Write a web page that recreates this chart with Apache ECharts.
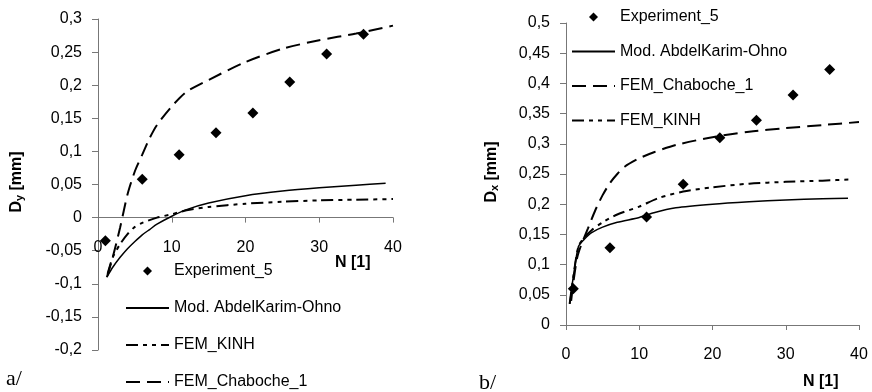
<!DOCTYPE html>
<html lang="en">
    <head>
        <meta charset="utf-8">
        <title>Dy / Dx vs N</title>
        <script type="text/javascript" src="https://cdn.jsdelivr.net/npm/echarts@6/dist/echarts.min.js"></script>
        <style>
            html, body { margin: 0; padding: 0; background: #fff; }
            #chart { width: 872px; height: 392px; }
        </style>
    </head>
    <body>
        <div id="chart"></div>
        <script>
            // 实验点的循环次数
            var expN = [1, 6, 11, 16, 21, 26, 31, 36];
            // a/ Dy
            var dyExp = [-0.035, 0.058, 0.095, 0.128, 0.158, 0.205, 0.247, 0.277];
            var dyMod = [[1.3, -0.088], [2, -0.075], [3, -0.06], [4, -0.047], [5, -0.036], [6, -0.026], [7, -0.018], [8, -0.01], [10, 0.002], [12, 0.012], [15, 0.022], [20, 0.033], [25, 0.04], [30, 0.045], [35, 0.049], [39, 0.052]];
            var dyKinh = [[1.3, -0.085], [2, -0.06], [3, -0.04], [4, -0.025], [5, -0.014], [6, -0.008], [8, 0], [10, 0.005], [12, 0.011], [15, 0.016], [20, 0.021], [25, 0.024], [30, 0.026], [35, 0.027], [40, 0.028]];
            var dyChab = [[1.2, -0.09], [2, -0.06], [3, -0.015], [4, 0.035], [5, 0.07], [6, 0.095], [7, 0.12], [8, 0.14], [10, 0.168], [12, 0.19], [15, 0.208], [20, 0.235], [25, 0.255], [30, 0.268], [35, 0.278], [40, 0.29]];
            // b/ Dx
            var dxExp = [0.06, 0.128, 0.179, 0.233, 0.31, 0.339, 0.381, 0.423];
            var dxMod = [[0.5, 0.035], [1, 0.08], [1.7, 0.13], [2.5, 0.142], [3.5, 0.153], [5, 0.162], [7, 0.17], [10, 0.178], [12, 0.186], [15, 0.194], [20, 0.2], [25, 0.204], [30, 0.207], [35, 0.209], [38.5, 0.21]];
            var dxKinh = [[0.5, 0.035], [1, 0.08], [1.7, 0.13], [2.5, 0.145], [3.5, 0.157], [5, 0.17], [7, 0.183], [10, 0.196], [12.6, 0.21], [16, 0.221], [20, 0.228], [25, 0.234], [30, 0.237], [35, 0.239], [39, 0.241]];
            var dxChab = [[0.7, 0.04], [1, 0.07], [1.5, 0.11], [2, 0.13], [3, 0.16], [4, 0.19], [5, 0.215], [6, 0.235], [7, 0.25], [8, 0.262], [10, 0.276], [12, 0.286], [15, 0.298], [20, 0.311], [25, 0.32], [30, 0.326], [35, 0.331], [40, 0.336]];
            var xTicks = [0, 10, 20, 30, 40];
            var dyRange = [-0.2, 0.3];
            var dxRange = [0, 0.5];

            var NAMES = ['Experiment_5', 'Mod. AbdelKarim-Ohno', 'FEM_KINH', 'FEM_Chaboche_1'];
            var FONT = 'Liberation Sans';
            var axisColor = '#777';
            var grids = [
                { left: 98, top: 19, width: 295, height: 331 },
                { left: 566, top: 23, width: 293, height: 302 }
            ];

            function pairs(xs, ys) {
                return xs.map(function (x, i) { return [x, ys[i]]; });
            }
            function comma(v) {
                return String(+v.toFixed(2)).replace('.', ',');
            }
            // x轴放在 y=0 处 (onZero 不生效, 用 offset 上移)
            function xAxisOf(gi, yr) {
                var off = -grids[gi].height * (0 - yr[0]) / (yr[1] - yr[0]);
                return {
                    type: 'value', gridIndex: gi, min: xTicks[0], max: xTicks[xTicks.length - 1], interval: 10,
                    offset: off,
                    axisLine: { show: true, onZero: false, lineStyle: { color: axisColor, width: 1 } },
                    axisTick: { show: true, inside: false, length: 5, lineStyle: { color: axisColor } },
                    axisLabel: { margin: 22, color: '#000', fontFamily: FONT, fontSize: 16 },
                    splitLine: { show: false }
                };
            }
            function yAxisOf(gi, yr) {
                return {
                    type: 'value', gridIndex: gi, min: yr[0], max: yr[1], interval: 0.05,
                    axisLine: { show: true, onZero: false, lineStyle: { color: axisColor, width: 1 } },
                    axisTick: { show: true, inside: false, length: 6, lineStyle: { color: axisColor } },
                    axisLabel: { margin: 16, color: '#000', fontFamily: FONT, fontSize: 16, formatter: comma },
                    splitLine: { show: false }
                };
            }
            function lineSeries(name, gi, data, type, width) {
                return {
                    name: name, type: 'line', xAxisIndex: gi, yAxisIndex: gi, data: data,
                    symbol: 'none', smooth: 0.25, silent: true,
                    itemStyle: { color: '#000' },
                    lineStyle: { color: '#000', width: width, type: type }
                };
            }
            function scatterSeries(gi, ys) {
                return {
                    name: NAMES[0], type: 'scatter', xAxisIndex: gi, yAxisIndex: gi,
                    data: pairs(expN, ys), symbol: 'diamond', symbolSize: 11,
                    itemStyle: { color: '#000', opacity: 1 }
                };
            }
            // 图例: 菱形不拉伸, 线条不画中间圆点
            var diamondIcon = 'path://M0,0 M43,12 M21.5,1.5 L26,6 L21.5,10.5 L17,6 Z';
            function legendItems(order) {
                return order.map(function (i) {
                    if (i === 0) {
                        return { name: NAMES[i], icon: diamondIcon, itemStyle: { color: '#000', opacity: 1 } };
                    }
                    return { name: NAMES[i], itemStyle: { opacity: 0 } };
                });
            }
            var dashDotDot = [12, 5, 4, 5, 4, 5];
            var longDash = [14, 7];

            var myChart = echarts.init(document.getElementById('chart'));
            var option = {
                animation: false,
                grid: grids,
                xAxis: [xAxisOf(0, dyRange), xAxisOf(1, dxRange)],
                yAxis: [yAxisOf(0, dyRange), yAxisOf(1, dxRange)],
                legend: [
                    {
                        orient: 'vertical', left: 125, top: 263, height: 130, padding: 0,
                        itemWidth: 43, itemHeight: 12, itemGap: 21, symbolKeepAspect: true,
                        selectedMode: false, data: legendItems([0, 1, 2, 3]),
                        textStyle: { fontFamily: FONT, fontSize: 16, color: '#000' }
                    },
                    {
                        orient: 'vertical', left: 571, top: 9, padding: 0,
                        itemWidth: 43, itemHeight: 12, itemGap: 18.5, symbolKeepAspect: true,
                        selectedMode: false, data: legendItems([0, 1, 3, 2]),
                        textStyle: { fontFamily: FONT, fontSize: 16, color: '#000' }
                    }
                ],
                series: [
                    lineSeries(NAMES[1], 0, dyMod, 'solid', 1.5),
                    lineSeries(NAMES[2], 0, dyKinh, dashDotDot, 2),
                    lineSeries(NAMES[3], 0, dyChab, longDash, 2),
                    scatterSeries(0, dyExp),
                    lineSeries(NAMES[1], 1, dxMod, 'solid', 1.5),
                    lineSeries(NAMES[2], 1, dxKinh, dashDotDot, 2),
                    lineSeries(NAMES[3], 1, dxChab, longDash, 2),
                    scatterSeries(1, dxExp)
                ],
                graphic: [
                    // 轴标题
                    { type: 'text', x: 335, y: 263, style: { text: 'N [1]', fontFamily: FONT, fontSize: 16, fontWeight: 'bold', fill: '#000', verticalAlign: 'middle' } },
                    { type: 'text', x: 803, y: 382, style: { text: 'N [1]', fontFamily: FONT, fontSize: 16, fontWeight: 'bold', fill: '#000', verticalAlign: 'middle' } },
                    {
                        type: 'text', x: 17, y: 182, rotation: Math.PI / 2,
                        style: {
                            text: '{d|D}{s|y}{d| [mm]}', align: 'center', verticalAlign: 'middle',
                            rich: {
                                d: { fontFamily: FONT, fontSize: 16, fontWeight: 'bold', fill: '#000' },
                                s: { fontFamily: FONT, fontSize: 11, fontWeight: 'bold', fill: '#000', verticalAlign: 'bottom', padding: [6, 0, 0, 0] }
                            }
                        }
                    },
                    {
                        type: 'text', x: 492, y: 172, rotation: Math.PI / 2,
                        style: {
                            text: '{d|D}{s|x}{d| [mm]}', align: 'center', verticalAlign: 'middle',
                            rich: {
                                d: { fontFamily: FONT, fontSize: 16, fontWeight: 'bold', fill: '#000' },
                                s: { fontFamily: FONT, fontSize: 11, fontWeight: 'bold', fill: '#000', verticalAlign: 'bottom', padding: [6, 0, 0, 0] }
                            }
                        }
                    },
                    // 子图编号
                    { type: 'text', x: 6, y: 379, style: { text: 'a/', fontFamily: 'Liberation Serif', fontSize: 22, fill: '#000', verticalAlign: 'middle' } },
                    { type: 'text', x: 479, y: 383, style: { text: 'b/', fontFamily: 'Liberation Serif', fontSize: 22, fill: '#000', verticalAlign: 'middle' } }
                ]
            };
            myChart.setOption(option);
        </script>
    </body>
</html>
